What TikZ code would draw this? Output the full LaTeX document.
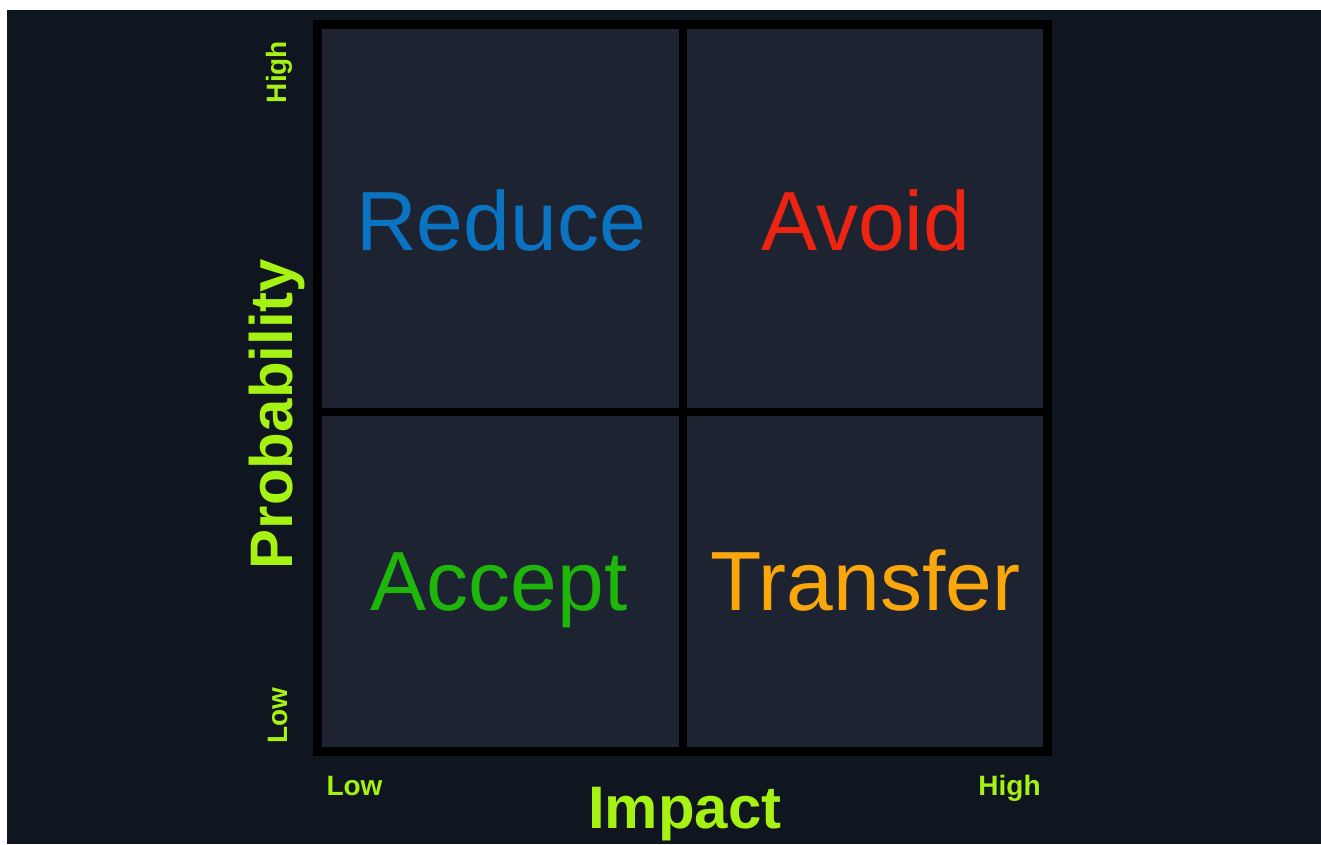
\documentclass[tikz,border=0pt]{standalone}
\usepackage{fontspec}
\setmainfont{Liberation Sans}

\definecolor{pagebg}{HTML}{10161F}
\definecolor{cellbg}{HTML}{1E2332}
\definecolor{lime}{HTML}{A6F213}
\definecolor{reduceblue}{HTML}{0B74C2}
\definecolor{avoidred}{HTML}{EE2412}
\definecolor{acceptgreen}{HTML}{1FB60C}
\definecolor{transferorange}{HTML}{FAA70C}

\begin{document}
\begin{tikzpicture}[x=1pt,y=-1pt,
    quadlabel/.style={anchor=base,inner sep=0pt,font=\fontsize{84}{84}\selectfont},
    axislabel/.style={anchor=base,inner sep=0pt,text=lime,font=\bfseries\fontsize{60}{60}\selectfont},
    ticklabel/.style={anchor=base,inner sep=0pt,text=lime,font=\bfseries\fontsize{28}{28}\selectfont}]
    \useasboundingbox (0,0) rectangle (1321,844);
    % Page
    \fill[white] (0,0) rectangle (1321,844);
    \fill[pagebg] (7,10) rectangle (1321,844);

    % Grid
    \draw[line width=9pt,fill=cellbg] (317.5,24.5) rectangle (1047.5,751.5);
    \draw[line width=8pt] (683,24.5) -- (683,751.5);
    \draw[line width=8pt] (317.5,412) -- (1047.5,412);

    % Quadrants
    \node[quadlabel,text=reduceblue] (reduce) at (501,250) {Reduce};
    \node[quadlabel,text=avoidred] (avoid) at (866,250) {Avoid};
    \node[quadlabel,text=acceptgreen] (accept) at (499,610) {Accept};
    \node[quadlabel,text=transferorange] (transfer) at (865.5,610) {Transfer};

    % Probability axis
    \node[axislabel,rotate=90] (probability) at (292,414) {Probability};
    \node[ticklabel,rotate=90] (probhigh) at (286,72) {High};
    \node[ticklabel,rotate=90] (problow) at (287,715.5) {Low};

    % Impact axis
    \node[axislabel] (impact) at (685,828) {Impact};
    \node[ticklabel] (impactlow) at (354.5,795) {Low};
    \node[ticklabel] (impacthigh) at (1009.5,795) {High};
\end{tikzpicture}
\end{document}
